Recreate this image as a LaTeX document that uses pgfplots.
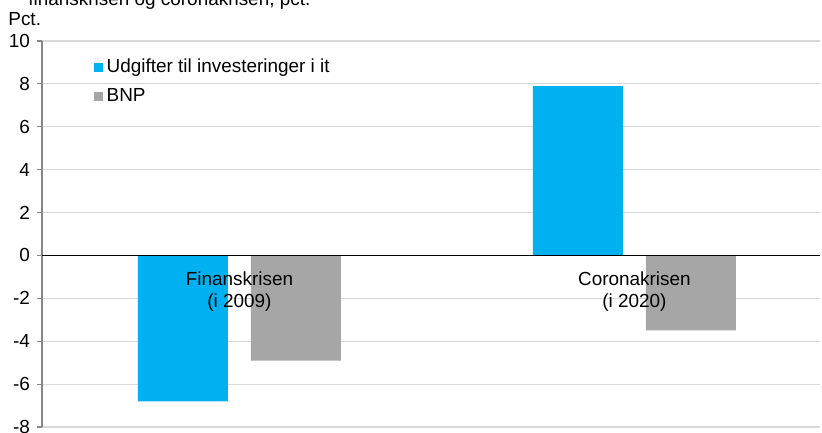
\documentclass[border=0pt]{standalone}
\usepackage{fontspec}
\setmainfont{Liberation Sans}
\usepackage{pgfplots}
\pgfplotsset{compat=1.18}
\definecolor{itblue}{HTML}{00B0F0}
\definecolor{bnpgrey}{HTML}{A6A6A6}
\definecolor{gridgrey}{HTML}{D9D9D9}
\definecolor{axgrey}{HTML}{868686}

\begin{document}
\begin{tikzpicture}[font=\fontsize{9.5}{11}\selectfont]
\useasboundingbox (-21bp,-3bp) rectangle (390bp,213.5bp);
\begin{axis}[scale only axis,width=389bp,height=193bp,
  ybar=11.5bp,bar width=45bp,
  xmin=-0.5,xmax=1.47,ymin=-8,ymax=10,
  xtick=\empty,
  ytick={-8,-6,...,10},
  yticklabels={-8,-6,-4,-2,0,2,4,6,8,10},
  ymajorgrids,grid style={gridgrey,line width=0.6pt},
  axis x line=none,
  axis y line*=left,
  y axis line style={axgrey,line width=0.6pt,-},
  ytick style={axgrey,line width=0.6pt},
  tick align=outside,major tick length=2.5bp,
  tick label style={font=\fontsize{9.5}{11}\selectfont},
  legend style={draw=none,fill=none,at={(0.058,0.975)},anchor=north west,
    font=\fontsize{9.5}{11}\selectfont,row sep=2.5bp,
    /tikz/every even column/.append style={column sep=0pt}},
  legend cell align=left,
  clip=false]
\addplot+[fill=itblue,draw=none,
  legend image code/.code={\fill[itblue] (0bp,-2.3bp) rectangle (4.6bp,2.3bp);}]
  coordinates {(0,-6.8) (1,7.9)};
\addplot+[fill=bnpgrey,draw=none,
  legend image code/.code={\fill[bnpgrey] (0bp,-2.3bp) rectangle (4.6bp,2.3bp);}]
  coordinates {(0,-4.9) (1,-3.5)};
\legend{Udgifter til investeringer i it,BNP}
\draw[black,line width=0.6pt] (axis cs:-0.5,0) -- (axis cs:1.47,0);
\node[align=center,anchor=north,yshift=-6bp,inner sep=2bp] at (axis cs:0,0) {Finanskrisen\\(i 2009)};
\node[align=center,anchor=north,yshift=-6bp,inner sep=2bp] at (axis cs:1,0) {Coronakrisen\\(i 2020)};
\node[anchor=base west,inner sep=0pt] at ([xshift=-17bp,yshift=7.5bp]rel axis cs:0,1) {Pct.};
\node[anchor=base west,inner sep=0pt] at ([xshift=-7bp,yshift=17.5bp]rel axis cs:0,1) {finanskrisen og coronakrisen, pct.};
\end{axis}
\end{tikzpicture}
\end{document}
